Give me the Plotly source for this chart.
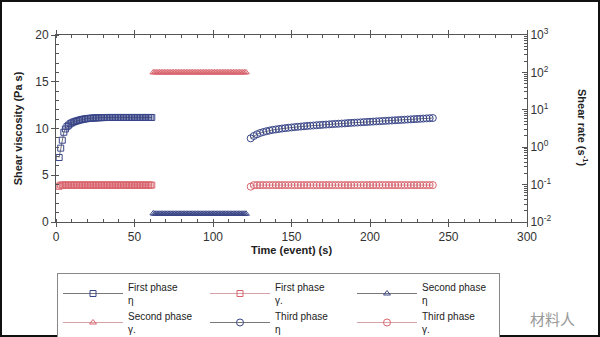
import plotly.graph_objects as go

# ---------------- data ----------------
t_phase1 = list(range(2, 62))          # first phase, 1 s per event
t_phase2 = list(range(62, 122))        # second phase
t_phase3 = list(range(124, 242, 2))    # third phase, 2 s per event

eta_phase1 = [6.9, 7.9, 8.75, 9.6, 9.95, 10.2, 10.35, 10.5, 10.6, 10.68,
              10.75, 10.8, 10.85, 10.9, 10.94, 10.98, 11.01, 11.04, 11.06, 11.08,
              11.1, 11.11, 11.12, 11.13, 11.14, 11.15, 11.16, 11.16, 11.17, 11.17] + [11.18] * 30
gamma_phase1 = [0.09] + [0.097] * 59

eta_phase2 = [0.92] + [0.88] * 59
gamma_phase2 = [100] * 60

eta_phase3 = [8.95, 9.2, 9.38, 9.52, 9.62, 9.71, 9.78, 9.85, 9.9, 9.95,
              10.0, 10.04, 10.08, 10.11, 10.15, 10.18, 10.21, 10.24, 10.27, 10.3,
              10.32, 10.35, 10.37, 10.4, 10.42, 10.44, 10.47, 10.49, 10.51, 10.53,
              10.55, 10.58, 10.6, 10.62, 10.64, 10.66, 10.68, 10.7, 10.72, 10.74,
              10.76, 10.78, 10.8, 10.82, 10.84, 10.86, 10.88, 10.9, 10.92, 10.94,
              10.96, 10.98, 11.0, 11.02, 11.04, 11.06, 11.08, 11.1, 11.12]
gamma_phase3 = [0.088] + [0.097] * 58

x_ticks = [0, 50, 100, 150, 200, 250, 300]
y_ticks = [0, 5, 10, 15, 20]
y2_ticks = [0.01, 0.1, 1, 10, 100, 1000]
y2_labels = ["10<sup>-2</sup>", "10<sup>-1</sup>", "10<sup>0</sup>",
             "10<sup>1</sup>", "10<sup>2</sup>", "10<sup>3</sup>"]

# ---------------- style ----------------
NAVY = "#3a4688"
RED = "#d9646e"
LINE_DARK = "#555555"
LINE_PINK = "#c98a90"
FONT = "Liberation Sans, Arial, sans-serif"

fig = go.Figure()

def add(x, y, name, symbol, mcol, lcol, axis, size=6):
    fig.add_trace(go.Scatter(
        x=x, y=y, name=name, mode="lines+markers", yaxis=axis,
        marker=dict(symbol=symbol, size=size, color=mcol,
                    line=dict(color=mcol, width=1)),
        line=dict(color=lcol, width=0.8),
    ))

add(t_phase1, eta_phase1, "First phase<br>η", "square-open", NAVY, LINE_DARK, "y")
add(t_phase1, gamma_phase1, "First phase<br>γ.", "square-open", RED, LINE_PINK, "y2")
add(t_phase2, eta_phase2, "Second phase<br>η", "triangle-up-open", NAVY, LINE_DARK, "y")
add(t_phase2, gamma_phase2, "Second phase<br>γ.", "triangle-up-open", RED, LINE_PINK, "y2")
add(t_phase3, eta_phase3, "Third phase<br>η", "circle-open", NAVY, LINE_DARK, "y", 7)
add(t_phase3, gamma_phase3, "Third phase<br>γ.", "circle-open", RED, LINE_PINK, "y2", 7)

L, R, T, B = 56, 73, 35, 115
W, H = 600, 337
pw, ph = W - L - R, H - T - B

def px(xp):
    return (xp - L) / pw

def py(yp):
    return (H - B - yp) / ph

axis_common = dict(showline=True, linecolor="#555", linewidth=1, showgrid=False,
                   zeroline=False, tickfont=dict(family=FONT, size=12, color="#333"),
                   tickcolor="#555")

fig.update_layout(
    width=W, height=H,
    margin=dict(l=L, r=R, t=T, b=B, autoexpand=False),
    paper_bgcolor="white", plot_bgcolor="white",
    font=dict(family=FONT, size=11, color="#222"),
    xaxis=dict(range=[0, 300], tickvals=x_ticks, ticks="outside", ticklen=4,
               mirror="ticks",
               minor=dict(dtick=10, ticks="inside", ticklen=3, tickcolor="#555"),
               title=dict(text="<b>Time (event) (s)</b>", font=dict(size=11, color="#222"),
                          standoff=1),
               **axis_common),
    yaxis=dict(range=[0, 20], tickvals=y_ticks, ticks="outside", ticklen=4,
               minor=dict(dtick=1, ticks="inside", ticklen=3, tickcolor="#555"),
               title=dict(text="<b>Shear viscosity (Pa s)</b>", font=dict(size=11, color="#222"),
                          standoff=10),
               **axis_common),
    yaxis2=dict(type="log", range=[-2, 3], overlaying="y", side="right", anchor="x",
                tickvals=y2_ticks, ticktext=y2_labels, ticks="inside", ticklen=5,
                minor=dict(dtick="D1", ticks="inside", ticklen=3, tickcolor="#555"),
                **axis_common),
    showlegend=True,
    legend=dict(orientation="h", x=px(57), y=py(273), xanchor="left", yanchor="top",
                entrywidth=72, entrywidthmode="pixels", itemwidth=60,
                bordercolor="#888", borderwidth=1, bgcolor="white",
                font=dict(family=FONT, size=10, color="#222"),
                traceorder="normal", tracegroupgap=0),
    annotations=[
        dict(text="<b>Shear rate (s<sup>-1</sup>)</b>", textangle=90, showarrow=False,
             xref="paper", yref="paper", x=px(583), y=py(128), xanchor="center",
             yanchor="middle", font=dict(family=FONT, size=11, color="#222")),
        dict(text="材料人", showarrow=False, xref="paper", yref="paper",
             x=px(552), y=py(318), xanchor="center", yanchor="middle",
             font=dict(family="Noto Sans CJK SC", size=15, color="#999")),
    ],
    shapes=[
        dict(type="rect", xref="paper", yref="paper", x0=px(1), x1=px(599),
             y0=py(336), y1=py(1), line=dict(color="#111", width=2)),
    ],
)

fig.write_html("out.html")
